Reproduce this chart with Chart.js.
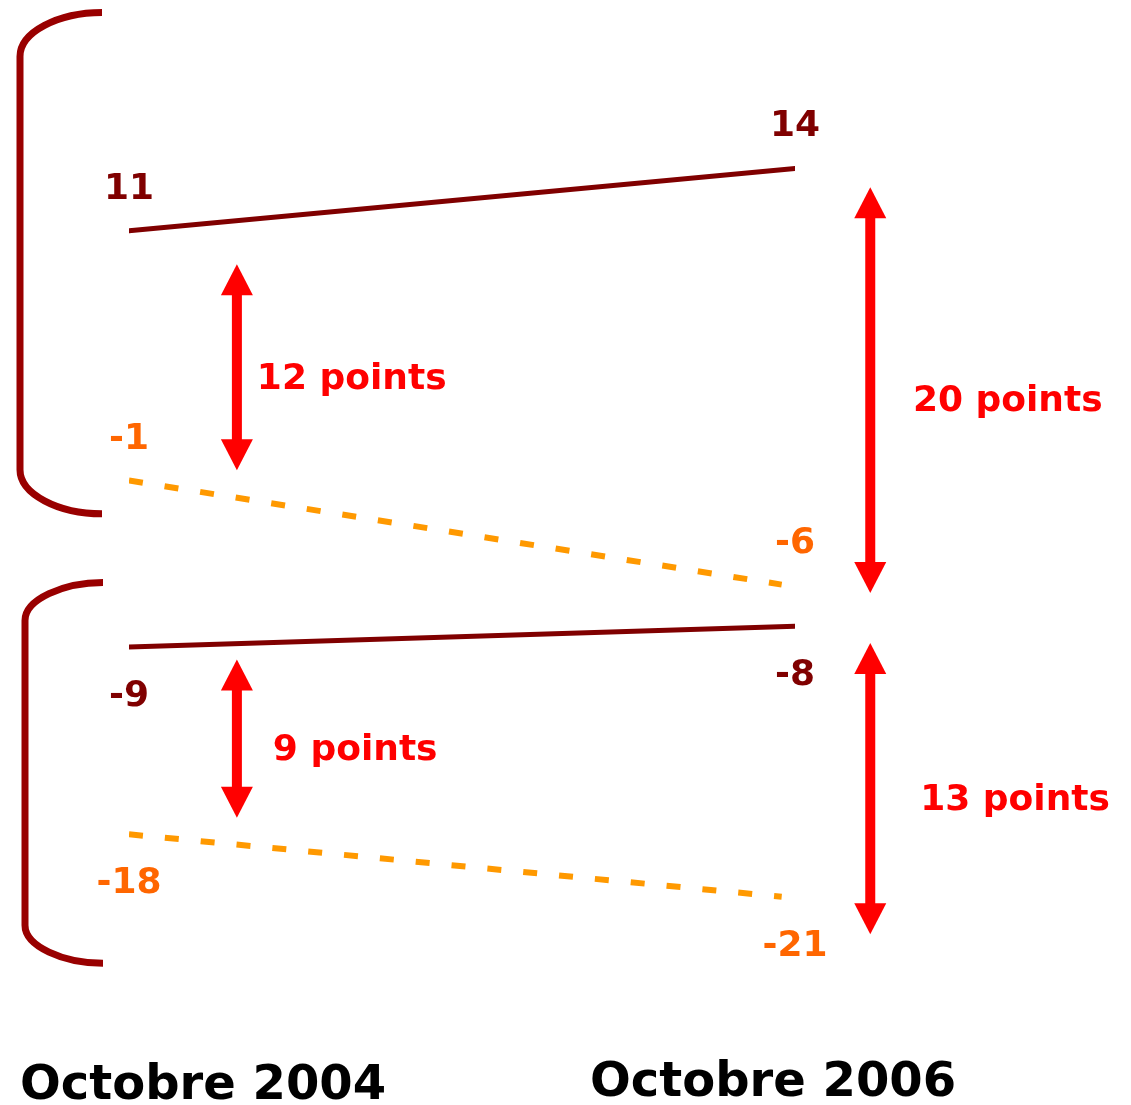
<!DOCTYPE html>
<html>
<head>
<meta charset="utf-8">
<script src="https://cdn.jsdelivr.net/npm/chart.js@4/dist/chart.umd.min.js"></script>
<style>
  body { margin: 0; background: #fff; }
  canvas { display: block; }
</style>
</head>
<body>
<canvas id="slopeChart" width="1131" height="1105"></canvas>
<script>
var categories = ['Octobre 2004', 'Octobre 2006'];

// two groups, each with a solid and a dotted series
var topSolid = [11, 14];
var topDotted = [-1, -6];
var bottomSolid = [-9, -8];
var bottomDotted = [-18, -21];

// gap arrows: text, and the values where the arrow tips sit
var gapLabels = ['12 points', '20 points', '9 points', '13 points'];
var gapFrom = [9.4, 13.1, -9.6, -8.8];
var gapTo = [-0.5, -6.4, -17.2, -22.8];

var darkRed = '#800000';
var orange = '#ff6600';

function series(values, color, dashed, labelPos, labelColor) {
    return {
        data: [{x: 0, y: values[0]}, {x: dashed ? 0.98 : 1, y: values[1]}],
        borderColor: color,
        borderWidth: dashed ? 6 : 5,
        borderDash: dashed ? [14, 22] : [],
        borderCapStyle: dashed ? 'butt' : 'round',
        pointRadius: 0,
        fill: false,
        tension: 0,
        labelPos: labelPos,
        labelColor: labelColor
    };
}

var decorations = {
    id: 'decorations',
    afterDatasetsDraw: function(chart) {
        var c = chart.ctx;
        var xs = chart.scales.x;
        var ys = chart.scales.y;
        var left = chart.chartArea.left;

        // value labels
        c.save();
        c.font = 'bold 36px "DejaVu Sans"';
        c.textAlign = 'center';
        c.textBaseline = 'alphabetic';
        chart.data.datasets.forEach(function(ds) {
            ds.data.forEach(function(p, i) {
                var px = xs.getPixelForValue(i);
                var py = ys.getPixelForValue(p.y);
                c.fillStyle = ds.labelColor;
                c.fillText(String(p.y), px, ds.labelPos === 'above' ? py - 32 : py + 59);
            });
        });
        c.restore();

        // brackets
        function bracket(x0, x1, yTop, yBot, curve) {
            c.beginPath();
            c.moveTo(x1, yTop);
            c.bezierCurveTo(x0 + 38, yTop, x0, yTop + curve * 0.45, x0, yTop + curve);
            c.lineTo(x0, yBot - curve);
            c.bezierCurveTo(x0, yBot - curve * 0.45, x0 + 38, yBot, x1, yBot);
            c.stroke();
        }
        c.save();
        c.strokeStyle = '#990000';
        c.lineWidth = 7;
        bracket(left - 109, left - 27, ys.getPixelForValue(21.5), ys.getPixelForValue(-2.6), 44);
        bracket(left - 104, left - 26, ys.getPixelForValue(-5.9), ys.getPixelForValue(-24.2), 38);
        c.restore();

        // double arrows
        function arrow(x, y1, y2) {
            var head = 31, half = 16;
            c.fillStyle = '#ff0000';
            c.fillRect(x - 5, y1 + head - 2, 10, y2 - y1 - 2 * head + 4);
            c.beginPath();
            c.moveTo(x, y1);
            c.lineTo(x - half, y1 + head);
            c.lineTo(x + half, y1 + head);
            c.closePath();
            c.fill();
            c.beginPath();
            c.moveTo(x, y2);
            c.lineTo(x - half, y2 - head);
            c.lineTo(x + half, y2 - head);
            c.closePath();
            c.fill();
        }
        var arrowX = [0.162, 1.113, 0.162, 1.113];
        var textX = [0.192, 1.177, 0.216, 1.188];
        c.save();
        c.font = 'bold 36px "DejaVu Sans"';
        c.textAlign = 'left';
        c.textBaseline = 'middle';
        for (var i = 0; i < gapLabels.length; i++) {
            var ax = xs.getPixelForValue(arrowX[i]);
            var y1 = ys.getPixelForValue(gapFrom[i]);
            var y2 = ys.getPixelForValue(gapTo[i]);
            arrow(ax, y1, y2);
            c.fillStyle = '#ff0000';
            c.fillText(gapLabels[i], xs.getPixelForValue(textX[i]), (y1 + y2) / 2 + 12);
        }
        c.restore();

        // category labels
        c.save();
        c.font = 'bold 48px "DejaVu Sans"';
        c.fillStyle = '#000';
        c.textAlign = 'left';
        c.textBaseline = 'alphabetic';
        c.fillText(categories[0], left - 109, 1099);
        c.fillText(categories[1], xs.getPixelForValue(1) - 205, 1096);
        c.restore();
    }
};

var ctx = document.getElementById('slopeChart').getContext('2d');
var slopeChart = new Chart(ctx, {
    type: 'line',
    data: {
        datasets: [
            series(topSolid, darkRed, false, 'above', darkRed),
            series(topDotted, '#ff9900', true, 'above', orange),
            series(bottomSolid, darkRed, false, 'below', darkRed),
            series(bottomDotted, '#ff9900', true, 'below', orange)
        ]
    },
    options: {
        responsive: false,
        animation: false,
        layout: { padding: { left: 129, right: 336, top: 2, bottom: 21 } },
        plugins: { legend: { display: false }, tooltip: { enabled: false } },
        scales: {
            x: { type: 'linear', min: 0, max: 1, display: false },
            y: { type: 'linear', min: -30, max: 22, display: false }
        }
    },
    plugins: [decorations]
});
</script>
</body>
</html>
